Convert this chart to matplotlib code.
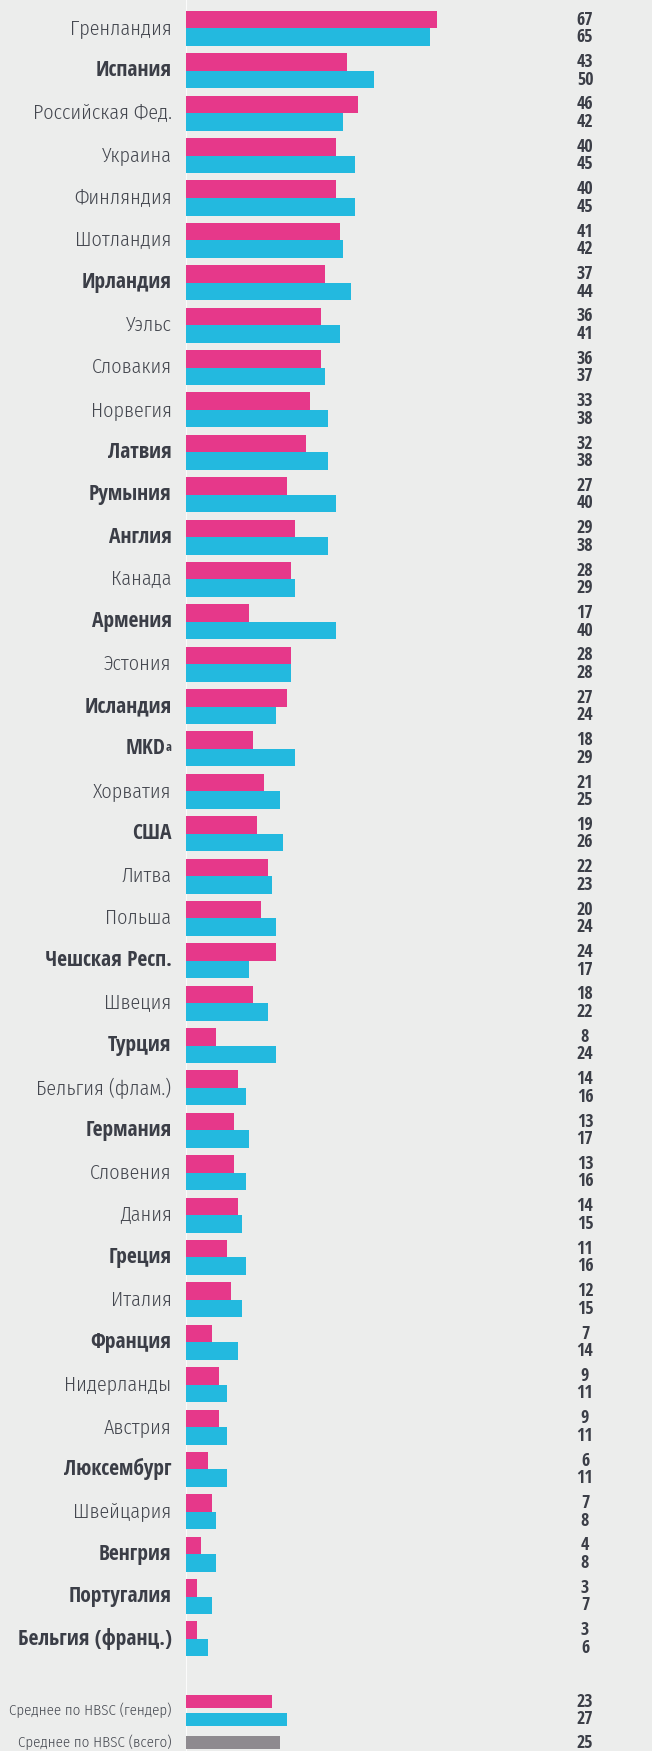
import matplotlib
matplotlib.use("Agg")
import matplotlib.pyplot as plt
import numpy as np

countries = ["Гренландия", "Испания", "Российская Фед.", "Украина", "Финляндия",
             "Шотландия", "Ирландия", "Уэльс", "Словакия", "Норвегия", "Латвия",
             "Румыния", "Англия", "Канада", "Армения", "Эстония", "Исландия", "MKD",
             "Хорватия", "США", "Литва", "Польша", "Чешская Респ.", "Швеция",
             "Турция", "Бельгия (флам.)", "Германия", "Словения", "Дания", "Греция",
             "Италия", "Франция", "Нидерланды", "Австрия", "Люксембург", "Швейцария",
             "Венгрия", "Португалия", "Бельгия (франц.)"]
bold = {"Испания", "Ирландия", "Латвия", "Румыния", "Англия", "Армения", "Исландия",
        "MKD", "США", "Чешская Респ.", "Турция", "Германия", "Греция", "Франция",
        "Люксембург", "Венгрия", "Португалия", "Бельгия (франц.)"}
girls = [67, 43, 46, 40, 40, 41, 37, 36, 36, 33, 32, 27, 29, 28, 17, 28, 27, 18,
         21, 19, 22, 20, 24, 18, 8, 14, 13, 13, 14, 11, 12, 7, 9, 9, 6, 7, 4, 3, 3]
boys = [65, 50, 42, 45, 45, 42, 44, 41, 37, 38, 38, 40, 38, 29, 40, 28, 24, 29,
        25, 26, 23, 24, 17, 22, 24, 16, 17, 16, 15, 16, 15, 14, 11, 11, 11, 8, 8, 7, 6]
avg_labels = ["Среднее по HBSC (гендер)", "Среднее по HBSC (всего)"]
avg_girls, avg_boys, avg_all = 23, 27, 25

PINK = "#E6388A"
BLUE = "#23B9DF"
GREY = "#8E8A8F"
BG = "#ECEDEC"
DARK = "#3B3E47"
MID = "#44474F"
BOLDFONT = ["Open Sans Condensed", "DejaVu Sans"]
LIGHTFONT = ["Fira Sans Condensed", "DejaVu Sans"]

W, H = 652, 1751
px_unit = 3.76      # pixels per percent
row_px = 42.38      # pixels per country row
x0 = 185.5          # bar baseline in pixels

fig = plt.figure(figsize=(W / 100, H / 100), dpi=100, facecolor=BG)
ax = fig.add_axes([x0 / W, 0, 1 - x0 / W, 1])
ax.set_facecolor(BG)
ax.set_xlim(0, (W - x0) / px_unit)
ax.set_ylim(H / row_px, 0)
ax.axis("off")

def px(v):
    return (v - x0) / px_unit

n = len(countries)
c = np.arange(n) + 0.672
h = 0.413
ax.barh(c - h / 2, girls, height=h, color=PINK, linewidth=0)
ax.barh(c + h / 2, boys, height=h, color=BLUE, linewidth=0)

# averages
ha = 0.30
ya = [40.15, 40.57, 41.12]
ax.barh(ya[0], avg_girls, height=ha, color=PINK, linewidth=0)
ax.barh(ya[1], avg_boys, height=ha, color=BLUE, linewidth=0)
ax.barh(ya[2], avg_all, height=ha, color=GREY, linewidth=0)

ax.axvline(0, color="white", lw=1.2, zorder=0)

xnum = px(585)
xlab = px(171.5)
num_kw = dict(fontsize=13, family=BOLDFONT, fontweight="bold", color=DARK,
              ha="center", va="center")
for i, name in enumerate(countries):
    if name in bold:
        kw = dict(fontsize=15.5, family=BOLDFONT, fontweight="bold", color=DARK)
    else:
        kw = dict(fontsize=14.5, family=LIGHTFONT, fontweight=300, color=MID)
    if name == "MKD":
        ax.text(px(165), c[i], name, va="center", ha="right", **kw)
        ax.text(xlab, c[i] - 0.19, "a", fontsize=9, family=BOLDFONT, va="top",
                ha="right", color=DARK, fontweight="bold")
    else:
        ax.text(xlab, c[i], name, va="center", ha="right", **kw)
    ax.text(xnum, c[i] - h / 2, str(girls[i]), **num_kw)
    ax.text(xnum, c[i] + h / 2, str(boys[i]), **num_kw)

avg_kw = dict(fontsize=10.7, family=LIGHTFONT, fontweight=300, color=MID,
              ha="right", va="center")
ax.text(xlab, (ya[0] + ya[1]) / 2, avg_labels[0], **avg_kw)
ax.text(xlab, ya[2], avg_labels[1], **avg_kw)
for y, v in zip(ya, [avg_girls, avg_boys, avg_all]):
    ax.text(xnum, y, str(v), **num_kw)

fig.savefig("out.png", dpi=100, facecolor=BG)
